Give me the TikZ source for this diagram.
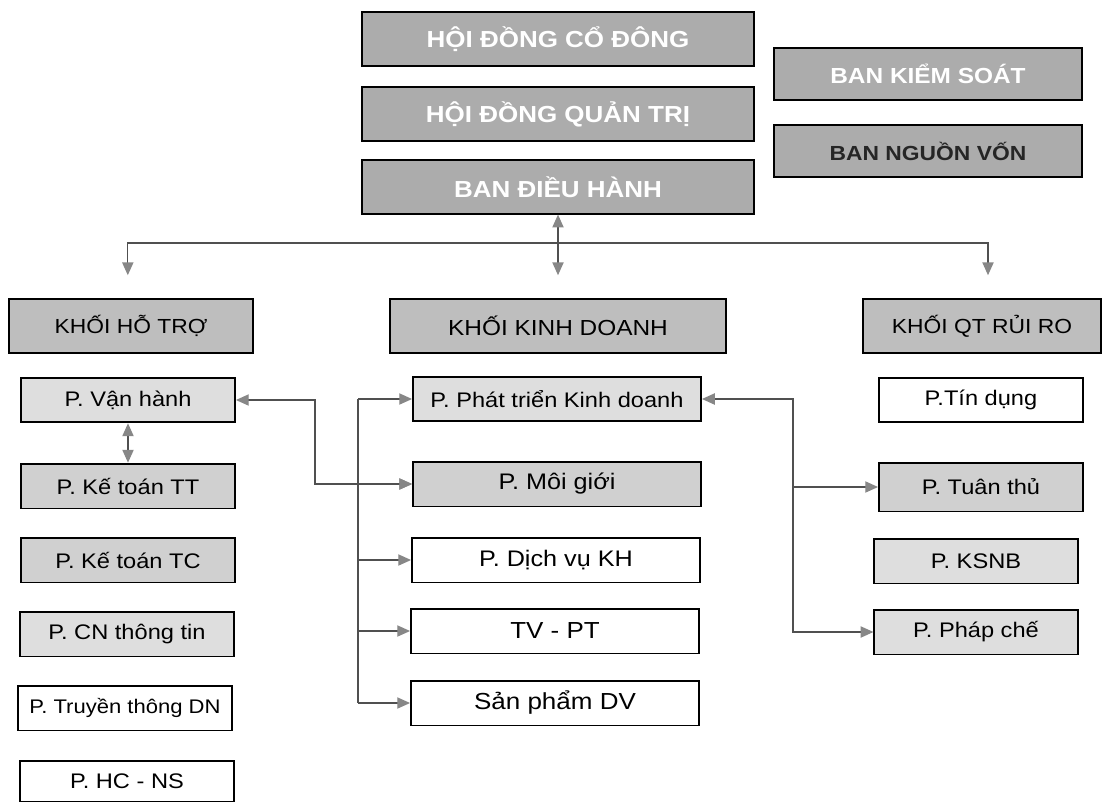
\documentclass[tikz,border=0pt]{standalone}
\usepackage{fontspec}
\setmainfont{Liberation Sans}[FakeStretch=1.12]
\usetikzlibrary{arrows.meta,positioning}
\definecolor{BoardGray}{RGB}{172,172,172}
\definecolor{HeadGray}{RGB}{190,190,190}
\definecolor{UnitGray}{RGB}{222,222,222}
\definecolor{UnitDark}{RGB}{208,208,208}
\definecolor{LinkGray}{RGB}{80,80,80}
\definecolor{TipGray}{RGB}{135,135,135}

\begin{document}
\begin{tikzpicture}[x=0.025cm,y=-0.025cm,
  board/.style={draw,line width=1.4pt,fill=BoardGray,text=white,font=\fontsize{16.5}{19}\selectfont\bfseries,minimum width=9.8cm,minimum height=1.33cm},
  side/.style={minimum width=7.72cm,minimum height=1.3cm,font=\fontsize{15.5}{18}\selectfont\bfseries},
  block/.style={draw,line width=1.4pt,fill=HeadGray,font=\fontsize{14.5}{17}\selectfont,minimum height=1.33cm},
  unit/.style={draw,line width=1.3pt,fill=white,font=\fontsize{15}{18}\selectfont,minimum height=1.12cm},
  bigunit/.style={unit,minimum width=7.2cm,font=\fontsize{16}{19}\selectfont},
  link/.style={draw=LinkGray,line width=0.9pt},
  >={Triangle[length=3.2mm,width=2.8mm,color=TipGray]}]
\useasboundingbox (0,0) rectangle (1104,803);
% management
\node[board] (hdcd) at (558,39) {HỘI ĐỒNG CỔ ĐÔNG};
\node[board] (hdqt) at (558,114) {HỘI ĐỒNG QUẢN TRỊ};
\node[board] (bdh) at (558,187) {BAN ĐIỀU HÀNH};
\node[board,side] (bks) at (928,74) {BAN KIỂM SOÁT};
\node[board,side,text=black!85,font=\fontsize{14.5}{17}\selectfont\bfseries] (bnv) at (928,151) {BAN NGUỒN VỐN};
% blocks
\node[block,minimum width=6.08cm] (khht) at (131,326) {KHỐI HỖ TRỢ};
\node[block,minimum width=8.4cm,font=\fontsize{15.5}{18}\selectfont] (khkd) at (558,326) {KHỐI KINH DOANH};
\node[block,minimum width=5.95cm] (khrr) at (982,326) {KHỐI QT RỦI RO};
% support units
\node[unit,minimum width=5.35cm,fill=UnitGray] (pvh) at (128,400) {P. Vận hành};
\node[unit,minimum width=5.35cm,fill=UnitDark] (pktt) at (128,486) {P. Kế toán TT};
\node[unit,minimum width=5.35cm,fill=UnitDark] (pktc) at (128,560) {P. Kế toán TC};
\node[unit,minimum width=5.35cm,fill=UnitGray] (pcntt) at (127,634) {P. CN thông tin};
\node[unit,minimum width=5.35cm,font=\fontsize{14}{17}\selectfont] (ptt) at (125,708) {P. Truyền thông DN};
\node[unit,minimum width=5.35cm,minimum height=1.02cm] (phcns) at (127,781) {P. HC - NS};
% business units
\node[bigunit,fill=UnitGray,font=\fontsize{15}{18}\selectfont] (ppt) at (557,399) {P. Phát triển Kinh doanh};
\node[bigunit,fill=UnitDark] (pmg) at (557,484) {P. Môi giới};
\node[bigunit] (pdv) at (556,560) {P. Dịch vụ KH};
\node[bigunit,font=\fontsize{16.5}{19}\selectfont] (tvpt) at (555,631) {TV - PT};
\node[bigunit,font=\fontsize{16.5}{19}\selectfont] (spdv) at (555,703) {Sản phẩm DV};
% risk units
\node[unit,minimum width=5.08cm] (ptd) at (981,400) {P.Tín dụng};
\node[unit,minimum width=5.1cm,minimum height=1.22cm,fill=UnitDark] (ptuan) at (981,487) {P. Tuân thủ};
\node[unit,minimum width=5.08cm,fill=UnitGray] (pksnb) at (976,561) {P. KSNB};
\node[unit,minimum width=5.08cm,fill=UnitGray] (ppc) at (976,632) {P. Pháp chế};
% links
\coordinate (bus) at (558,243);
\coordinate (jog) at (315,0);
\coordinate (kd) at (358,0);
\coordinate (rk) at (793,0);
\draw[link,<->,shorten >=0.58cm] (bdh.south) -- (khkd.north);
\draw[link,->,shorten >=0.58cm] (bus) -| ([xshift=-0.08cm]khht.north);
\draw[link,->,shorten >=0.58cm] (bus) -| ([xshift=0.15cm]khrr.north);
\draw[link,<->] (pvh) -- (pktt);
\draw[link,<->] (pvh.east) -- (pvh.east -| jog) |- (pmg.west);
\draw[link] (kd |- ppt.west) -- (kd |- spdv.west);
\foreach \u in {ppt,pmg,pdv,tvpt,spdv}
  \draw[link,->] (kd |- \u.west) -- (\u.west);
\draw[link,<->] (ppt.east) -- (ppt.east -| rk) |- (ppc.west);
\draw[link,->] (rk |- ptuan.west) -- (ptuan.west);
\end{tikzpicture}
\end{document}
